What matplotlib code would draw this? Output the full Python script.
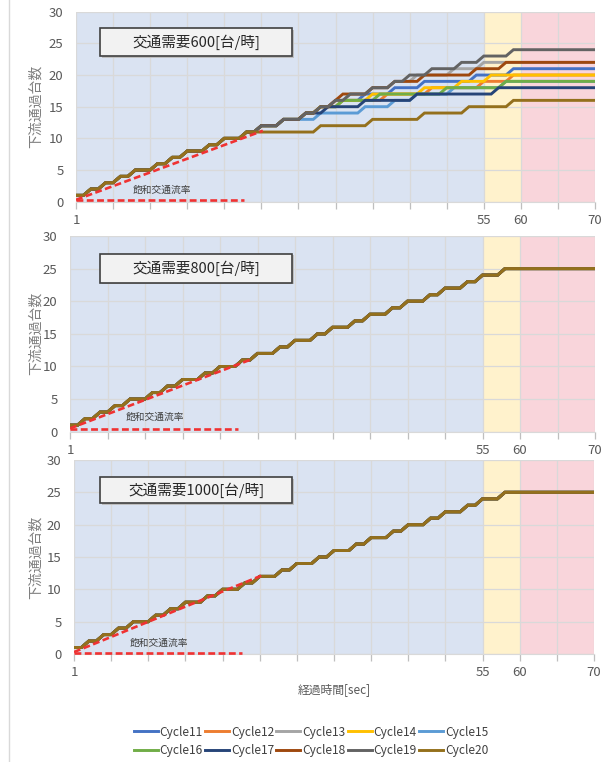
import numpy as np
import matplotlib
matplotlib.use("Agg")
import matplotlib.pyplot as plt
from matplotlib.patches import Rectangle
from matplotlib.lines import Line2D

plt.rcParams['font.family'] = ['Noto Sans CJK JP', 'DejaVu Sans']

FIG_W, FIG_H = 605, 762

# ---- axis definitions ----
t_max = 70
x_label_pos = [0, 55, 60, 70]
x_label_text = ["1", "55", "60", "70"]
x_grid_step = 5
y_ticks = [0, 5, 10, 15, 20, 25, 30]

# signal phases: green / yellow / red
phase_edges = [0, 55, 60, 70]
phase_colors = ["#DAE3F2", "#FFF2CC", "#F9D5DB"]

series_names = ["Cycle11", "Cycle12", "Cycle13", "Cycle14", "Cycle15",
                "Cycle16", "Cycle17", "Cycle18", "Cycle19", "Cycle20"]
series_colors = ["#4472C4", "#ED7D31", "#A5A5A5", "#FFC000", "#5B9BD5",
                 "#70AD47", "#264478", "#9E480E", "#636363", "#94701C"]

# ---- passing times [s] of each vehicle at the downstream point ----
# demand 600 veh/h
cycle11_600 = [0, 2, 4, 6, 8, 11, 13, 15, 18, 20, 23, 25, 28, 31, 33, 36, 39, 43, 47, 54, 59]
cycle12_600 = [0, 2, 4, 6, 8, 11, 13, 15, 18, 20, 23, 25, 28, 31, 33, 35, 42, 48, 55, 59]
cycle13_600 = [0, 2, 4, 6, 8, 11, 13, 15, 18, 20, 23, 25, 28, 31, 33, 35, 37, 40, 43, 46, 51, 55]
cycle14_600 = [0, 2, 4, 6, 8, 11, 13, 15, 18, 20, 23, 25, 28, 31, 33, 36, 40, 47, 52, 56]
cycle15_600 = [0, 2, 4, 6, 8, 11, 13, 15, 18, 20, 23, 25, 28, 33, 39, 43, 46, 51, 58]
cycle16_600 = [0, 2, 4, 6, 8, 11, 13, 15, 18, 20, 23, 25, 28, 31, 33, 36, 41, 50, 58]
cycle17_600 = [0, 2, 4, 6, 8, 11, 13, 15, 18, 20, 23, 25, 28, 31, 34, 39, 46, 57]
cycle18_600 = [0, 2, 4, 6, 8, 11, 13, 15, 18, 20, 23, 25, 28, 31, 33, 35, 36, 40, 43, 47, 54, 58]
cycle19_600 = [0, 2, 4, 6, 8, 11, 13, 15, 18, 20, 23, 25, 28, 31, 33, 35, 37, 40, 43, 45, 48, 52, 55, 59]
cycle20_600 = [0, 2, 4, 6, 8, 11, 13, 15, 18, 20, 23, 33, 40, 47, 53, 59]

# demand 800 veh/h (all cycles identical)
passing_800 = [0, 2, 4, 6, 8, 11, 13, 15, 18, 20, 23, 25, 28, 30, 33, 35, 38, 40,
               43, 45, 48, 50, 53, 55, 58]
# demand 1000 veh/h (all cycles identical)
passing_1000 = [0, 2, 4, 6, 8, 11, 13, 15, 18, 20, 23, 25, 28, 30, 33, 35, 38, 40,
                43, 45, 48, 50, 53, 55, 58]

panel_titles = ["交通需要600[台/時]", "交通需要800[台/時]", "交通需要1000[台/時]"]

# saturation-flow guide: slope line (x0, y0, x1, y1), baseline (x_end, y)
sat_slope_600 = [0, 0.3, 25.2, 11.2]
sat_base_600 = [22.6, 0.25]
sat_slope_800 = [0, 0.5, 24.2, 11.1]
sat_base_800 = [22.4, 0.45]
sat_slope_1000 = [0, 0.3, 25.2, 12.1]
sat_base_1000 = [22.6, 0.15]
sat_label = "飽和交通流率"
sat_label_xy = [(11.6, 1.85), (11.4, 2.2), (11.5, 1.8)]

y_label = "下流通過台数"
x_label = "経過時間[sec]"

# ---- layout (pixel boxes: left, top, right, bottom) ----
axes_px = [(76, 11.7, 595, 201.7), (70, 236, 595, 431.7), (74, 460, 594, 654)]
title_px = [(100, 28, 292, 56), (100, 254, 292, 283), (100, 477, 292, 503)]
ylabel_x_px = 36

TICK_COLOR = "#595959"
GRID_COLOR = "#D9D9D9"
SAT_COLOR = "#F03232"

fig = plt.figure(figsize=(FIG_W / 100, FIG_H / 100), dpi=100)


def fig_box(l, t, r, b):
    return [l / FIG_W, 1 - b / FIG_H, (r - l) / FIG_W, (b - t) / FIG_H]


t = np.arange(0, t_max + 1)


def cumulative(passing):
    return np.searchsorted(np.sort(passing), t, side="right")


panel_series = [
    [cycle11_600, cycle12_600, cycle13_600, cycle14_600, cycle15_600,
     cycle16_600, cycle17_600, cycle18_600, cycle19_600, cycle20_600],
    [passing_800] * 10,
    [passing_1000] * 10,
]
panel_slope = [sat_slope_600, sat_slope_800, sat_slope_1000]
panel_base = [sat_base_600, sat_base_800, sat_base_1000]

for i in range(3):
    l, tp, r, b = axes_px[i]
    ax = fig.add_axes(fig_box(l, tp, r, b))
    ax.set_xlim(0, t_max)
    ax.set_ylim(0, 30)

    for k in range(3):
        ax.axvspan(phase_edges[k], phase_edges[k + 1], color=phase_colors[k],
                   lw=0, zorder=0)

    ax.set_axisbelow("line")
    ax.set_xticks(x_label_pos)
    ax.set_xticklabels(x_label_text)
    ax.set_xticks(np.arange(0, t_max + 1, x_grid_step), minor=True)
    ax.set_yticks(y_ticks)
    ax.grid(True, which="both", axis="x", color=GRID_COLOR, lw=0.9)
    ax.grid(True, which="major", axis="y", color=GRID_COLOR, lw=0.9)
    ax.tick_params(axis="x", which="both", length=5, width=0.9,
                   color="#BFBFBF", pad=4, labelsize=9.5, labelcolor=TICK_COLOR)
    ax.tick_params(axis="y", length=0, pad=9, labelsize=9.5, labelcolor=TICK_COLOR)
    for side in ["top", "right", "left"]:
        ax.spines[side].set_visible(False)
    ax.spines["bottom"].set_color(GRID_COLOR)

    for name, color, passing in zip(series_names, series_colors, panel_series[i]):
        ax.plot(t, cumulative(passing), color=color, lw=2.1, label=name,
                solid_joinstyle="miter", zorder=3)

    x0, y0, x1, y1 = panel_slope[i]
    ax.plot([x0, x1], [y0, y1], color=SAT_COLOR, lw=1.9, ls=(0, (2.6, 1.3)),
            zorder=4)
    bx, by = panel_base[i]
    ax.plot([0, bx], [by, by], color=SAT_COLOR, lw=1.9, ls=(0, (2.6, 1.3)),
            zorder=4, clip_on=False)
    ax.text(*sat_label_xy[i], sat_label, fontsize=7, color="#404040",
            ha="center", va="center", zorder=5)

    ax.set_ylabel(y_label, fontsize=10, color="#7F7F7F", va="center")
    ax.yaxis.set_label_coords((ylabel_x_px - l) / (r - l), 0.5)

    # title box
    tl, tt, tr, tb = title_px[i]
    bl, bb, bw, bh = fig_box(tl, tt, tr, tb)
    fig.add_artist(Rectangle((bl + 1.5 / FIG_W, bb - 1.5 / FIG_H), bw, bh,
                             transform=fig.transFigure, facecolor="#BFBFBF",
                             edgecolor="none", zorder=9))
    fig.add_artist(Rectangle((bl, bb), bw, bh, transform=fig.transFigure,
                             facecolor="#F2F2F2", edgecolor="#404040", lw=1.2,
                             zorder=10))
    fig.text(bl + bw / 2, bb + bh / 2, panel_titles[i], fontsize=10.5,
             color="#262626", ha="center", va="center", zorder=11)

    if i == 2:
        ax.set_xlabel(x_label, fontsize=8.5, color=TICK_COLOR, va="center")
        ax.xaxis.set_label_coords(0.5, -(690 - b) / (b - tp))

# thin frame line on the left side
fig.add_artist(Line2D([8.5 / FIG_W, 8.5 / FIG_W], [0, 1], transform=fig.transFigure,
                      color="#D9D9D9", lw=1))

# legend laid out row by row (five entries per row)
ncol = 5
nrow = len(series_names) // ncol
order = [r * ncol + c for c in range(ncol) for r in range(nrow)]
legend_handles = [Line2D([], [], color=series_colors[j], lw=2.1) for j in order]
legend_labels = [series_names[j] for j in order]
fig.legend(legend_handles, legend_labels, ncol=ncol, loc="center",
           bbox_to_anchor=(311 / FIG_W, 1 - 741.5 / FIG_H), frameon=False,
           fontsize=8.6, labelcolor="#404040", handlelength=2.0, handletextpad=0.15,
           columnspacing=0.2, labelspacing=0.5, borderpad=0)

fig.savefig("out.png", dpi=100)
